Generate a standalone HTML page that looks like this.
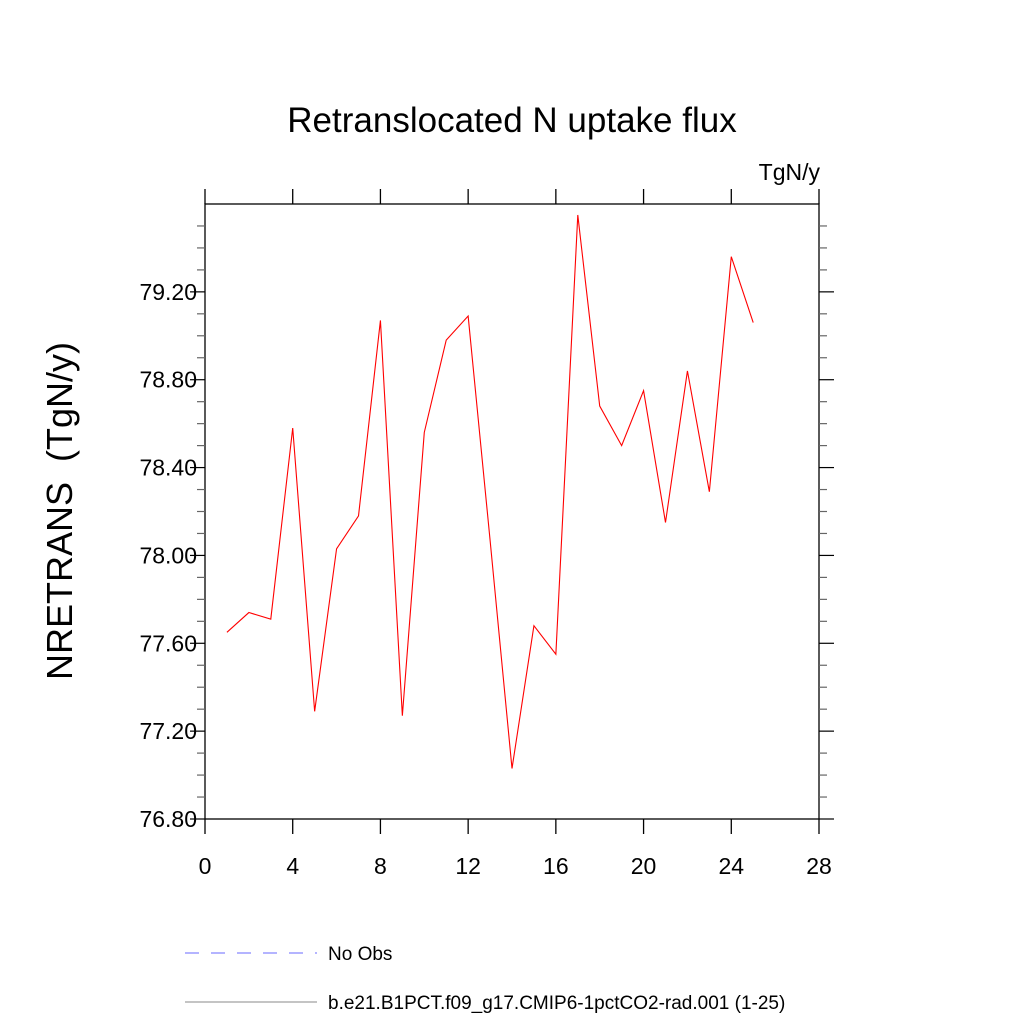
<!DOCTYPE html>
<html><head><meta charset="utf-8"><style>body{margin:0;background:#fff}svg{display:block}</style></head>
<body>
<svg id="chart" width="1024" height="1024" xmlns="http://www.w3.org/2000/svg" font-family="Liberation Sans, sans-serif">
<rect width="1024" height="1024" fill="#fff"/>
<text x="512" y="132" font-size="35" text-anchor="middle">Retranslocated N uptake flux</text>
<text x="820" y="180" font-size="23" text-anchor="end">TgN/y</text>
<text transform="translate(72,511) rotate(-90)" font-size="36" text-anchor="middle" xml:space="preserve">NRETRANS  (TgN/y)</text>
<g id="axes"></g>
<g id="series"></g>
<g>
<line x1="185" y1="953" x2="317" y2="953" stroke="#6a6aff" stroke-width="1" stroke-dasharray="14,12"/>
<text x="328" y="960" font-size="19">No Obs</text>
<line x1="185" y1="1002" x2="317" y2="1002" stroke="#888" stroke-width="1"/>
<text x="328" y="1009" font-size="19">b.e21.B1PCT.f09_g17.CMIP6-1pctCO2-rad.001 (1-25)</text>
</g>
</svg>
<script>
const years = [1,2,3,4,5,6,7,8,9,10,11,12,13,14,15,16,17,18,19,20,21,22,23,24,25];
const values = [77.65,77.74,77.71,78.58,77.29,78.03,78.18,79.07,77.27,78.56,78.98,79.09,78.07,77.03,77.68,77.55,79.55,78.68,78.50,78.75,78.15,78.84,78.29,79.36,79.06];
const xTicks = [0,4,8,12,16,20,24,28];
const yTicks = ["76.80","77.20","77.60","78.00","78.40","78.80","79.20"];

const L=205,R=819,T=204,B=819, xMin=0,xMax=28,yMin=76.8,yMax=79.6;
const sx=v=>L+(v-xMin)/(xMax-xMin)*(R-L);
const sy=v=>B-(v-yMin)/(yMax-yMin)*(B-T);
const NS="http://www.w3.org/2000/svg";
function mk(tag,attrs,parent){const e=document.createElementNS(NS,tag);for(const k in attrs)e.setAttribute(k,attrs[k]);parent.appendChild(e);return e;}
const ax=document.getElementById('axes');
const frame=mk('rect',{x:L,y:T,width:R-L,height:B-T,fill:'none',stroke:'#000','stroke-width':1.3},ax);


xTicks.forEach(t=>{
  const x=sx(t);
  const a=mk('line',{x1:x,y1:B,x2:x,y2:B+15,stroke:'#000','stroke-width':1.3},ax);
  
  
  const b=mk('line',{x1:x,y1:T,x2:x,y2:T-15,stroke:'#000','stroke-width':1.3},ax);
  
  
  const tx=mk('text',{x:x,y:874,'font-size':23,'text-anchor':'middle'},ax);
  tx.textContent=t;
  
  
});
for(let i=0;i<28;i++){
  const v=yMin+i*0.1;
  const y=sy(v); const major=(i%4===0); const len=major?15:8;
  const a=mk('line',{x1:L,y1:y,x2:L-len,y2:y,stroke:major?'#000':'#666','stroke-width':1.2},ax);
  
  
  const b=mk('line',{x1:R,y1:y,x2:R+len,y2:y,stroke:major?'#000':'#666','stroke-width':1.2},ax);
  
  
}
yTicks.forEach(t=>{
  const tx=mk('text',{x:197,y:sy(parseFloat(t))+8,'font-size':23,'text-anchor':'end'},ax);
  tx.textContent=t;
  
  
});
const se=document.getElementById('series');
const pts=years.map((y,i)=>sx(y)+','+sy(values[i])).join(' ');
const pl=mk('polyline',{points:pts,fill:'none',stroke:'#ff0000','stroke-width':1.1},se);


</script>
</body></html>
